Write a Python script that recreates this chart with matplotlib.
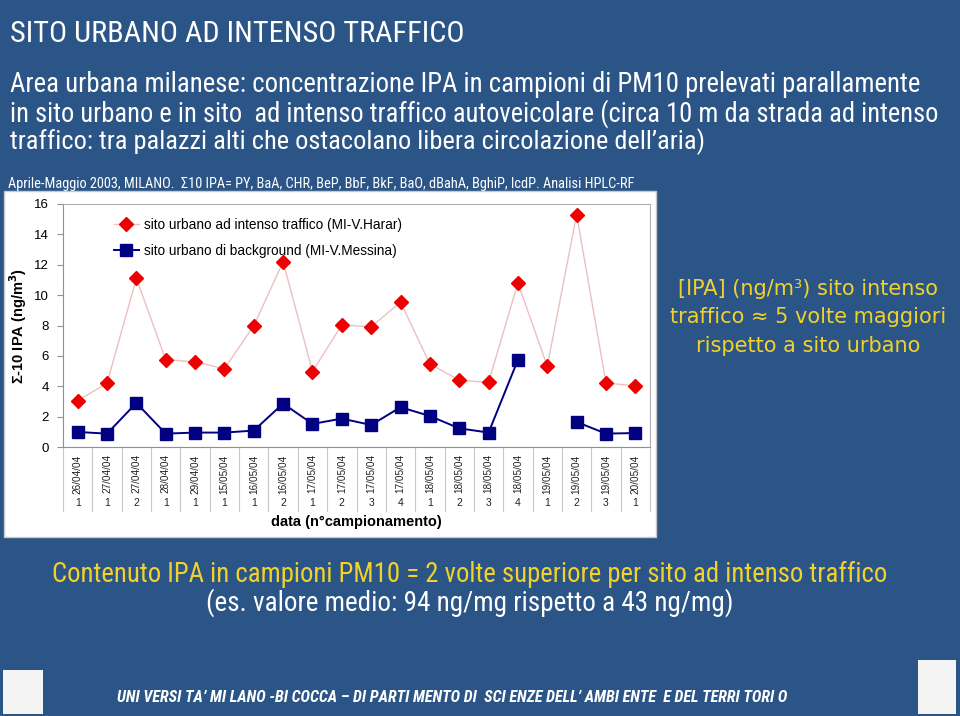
import matplotlib
matplotlib.use('Agg')
import matplotlib.pyplot as plt
import matplotlib.transforms as mtransforms
from matplotlib import font_manager
from matplotlib.patches import Rectangle
import numpy as np

# --- data ---
dates = ['26/04/04', '27/04/04', '27/04/04', '28/04/04', '29/04/04',
         '15/05/04', '16/05/04', '16/05/04', '17/05/04', '17/05/04',
         '17/05/04', '17/05/04', '18/05/04', '18/05/04', '18/05/04',
         '18/05/04', '19/05/04', '19/05/04', '19/05/04', '20/05/04']
sample_no = ['1', '1', '2', '1', '1', '1', '1', '2', '1', '2',
             '3', '4', '1', '2', '3', '4', '1', '2', '3', '1']
traffic = [3.05, 4.2, 11.1, 5.76, 5.6, 5.16, 7.98, 12.2, 4.97, 8.04,
           7.91, 9.54, 5.47, 4.4, 4.26, 10.8, 5.32, 15.3, 4.22, 4.02]
background = [0.99, 0.88, 2.9, 0.88, 0.95, 0.95, 1.08, 2.86, 1.52, 1.87,
              1.45, 2.62, 2.04, 1.23, 0.95, 5.74, np.nan, 1.65, 0.88, 0.92]
yticks = [0, 2, 4, 6, 8, 10, 12, 14, 16]

BG = '#2a5586'
YELLOW = '#f2d22a'

names = {f.name for f in font_manager.fontManager.ttflist}
NARROW = 'Liberation Sans'
for cand in ['Liberation Sans Narrow', 'Arial Narrow', 'Roboto Condensed']:
    if cand in names:
        NARROW = cand
        break

W, H = 960, 716
fig = plt.figure(figsize=(W / 100, H / 100), dpi=100)
fig.patch.set_facecolor(BG)
renderer = fig.canvas.get_renderer()


def px(x, y):
    return x / W, 1 - y / H


def fit(t, target_w):
    # scale font so the text spans the same width as in the slide
    w = t.get_window_extent(renderer).width
    t.set_fontsize(t.get_fontsize() * target_w / w)
    return t


# slide texts
t = fig.text(*px(10, 34), 'SITO URBANO AD INTENSO TRAFFICO', color='white',
             fontsize=20, family=NARROW, va='center', ha='left')
fit(t, 455)
sub = ['Area urbana milanese: concentrazione IPA in campioni di PM10 prelevati parallamente',
       'in sito urbano e in sito  ad intenso traffico autoveicolare (circa 10 m da strada ad intenso',
       'traffico: tra palazzi alti che ostacolano libera circolazione dell\u2019aria)']
sub_w = [915, 930, 693]
for i, line in enumerate(sub):
    t = fig.text(*px(10, 85 + i * 28.5), line, color='white', fontsize=16,
                 family=NARROW, va='center', ha='left')
    fit(t, sub_w[i])
t = fig.text(*px(8, 184), 'Aprile-Maggio 2003, MILANO.  \u03a310 IPA= PY, BaA, CHR, BeP, BbF, BkF, BaO, '
             'dBahA, BghiP, IcdP. Analisi HPLC-RF', color='white', fontsize=9,
             family=NARROW, va='center', ha='left')
fit(t, 633)

# white chart box
x0, y0 = px(4, 537)
x1, y1 = px(656, 191)
fig.patches.append(Rectangle((x0, y0), x1 - x0, y1 - y0, transform=fig.transFigure,
                             facecolor='white', edgecolor='#c8c8c8', lw=1, zorder=-5))

# axes
left, top = px(63, 204)
right, bottom = px(650, 447)
ax = fig.add_axes([left, bottom, right - left, top - bottom], zorder=2)
ax.set_facecolor('white')
x = np.arange(len(dates))
ax.plot(x, traffic, color='#ecc0c0', lw=1, marker='D', markersize=7.5,
        markerfacecolor='#ee0000', markeredgecolor='#ee0000',
        label='sito urbano ad intenso traffico (MI-V.Harar)', zorder=3)
ax.plot(x, background, color='#000080', lw=1.4, marker='s', markersize=8,
        markerfacecolor='#000080', markeredgecolor='#000080',
        label='sito urbano di background (MI-V.Messina)', zorder=3)

ax.set_xlim(-0.5, len(dates) - 0.5)
ax.set_ylim(0, 16)
ax.set_yticks(yticks)
ax.set_yticklabels([str(v) for v in yticks], fontsize=9.5, family='Liberation Sans')
ax.tick_params(axis='y', direction='out', length=4, color='#909090', pad=6)
ax.set_xticks([])
for s in ['top', 'right']:
    ax.spines[s].set_color('#b0b0b0')
for s in ['left', 'bottom']:
    ax.spines[s].set_color('#909090')

trans = mtransforms.blended_transform_factory(ax.transData, ax.transAxes)
for i, (d, n) in enumerate(zip(dates, sample_no)):
    ax.text(i, -0.03, d, rotation=90, ha='center', va='top', fontsize=7.2,
            family='Liberation Sans', transform=trans, color='#222222')
    ax.text(i, -0.23, n, ha='center', va='center', fontsize=7.5,
            family='Liberation Sans', transform=trans, color='#222222')
for i in range(len(dates) + 1):
    ax.plot([i - 0.5, i - 0.5], [0, -0.263], color='#c8c8c8', lw=0.8,
            transform=trans, clip_on=False)

ax.set_ylabel('\u03a3-10 IPA (ng/m$^\\mathbf{3}$)', fontsize=10.5, fontweight='bold',
              family='Liberation Sans')
ax.yaxis.set_label_coords(-0.058, 0.5)
ax.text(0.5, -0.31, 'data (n\u00b0campionamento)', transform=ax.transAxes,
        ha='center', va='center', fontsize=10.5, fontweight='bold', family='Liberation Sans')

ax.legend(loc='upper left', bbox_to_anchor=(0.078, 0.965), frameon=False,
          prop={'family': 'Liberation Sans', 'size': 9.8}, handlelength=1.8,
          labelspacing=0.85, borderaxespad=0, handletextpad=0.4)

# right-hand note
note = ['[IPA] (ng/m\u00b3) sito intenso', 'traffico \u2248 5 volte maggiori',
        'rispetto a sito urbano']
for i, line in enumerate(note):
    fig.text(*px(808, 289 + i * 28.5), line, color=YELLOW, fontsize=15,
             family=['DejaVu Sans'], ha='center', va='center')

t = fig.text(*px(470, 574), 'Contenuto IPA in campioni PM10 = 2 volte superiore per sito ad intenso traffico',
             color=YELLOW, fontsize=16, family=NARROW, ha='center', va='center')
fit(t, 836)
t = fig.text(*px(470, 603), '(es. valore medio: 94 ng/mg rispetto a 43 ng/mg)',
             color='white', fontsize=16, family=NARROW, ha='center', va='center')
fit(t, 528)

t = fig.text(*px(117, 697), 'UNI VERSI TA\u2019 MI LANO -BI COCCA \u2013 DI PARTI MENTO DI  SCI ENZE DELL\u2019 '
             'AMBI ENTE  E DEL TERRI TORI O', color='white', fontsize=10, fontweight='bold',
             style='italic', family=NARROW, ha='left', va='center')
fit(t, 673)

# logo placeholders
for (lx, ly, lw_, lh) in [(3, 670, 40, 44), (918, 660, 38, 54)]:
    a, b = px(lx, ly + lh)
    fig.patches.append(Rectangle((a, b), lw_ / W, lh / H, transform=fig.transFigure,
                                 facecolor='#f4f4f4', edgecolor='none'))

fig.savefig('out.png', dpi=100, facecolor=BG)
